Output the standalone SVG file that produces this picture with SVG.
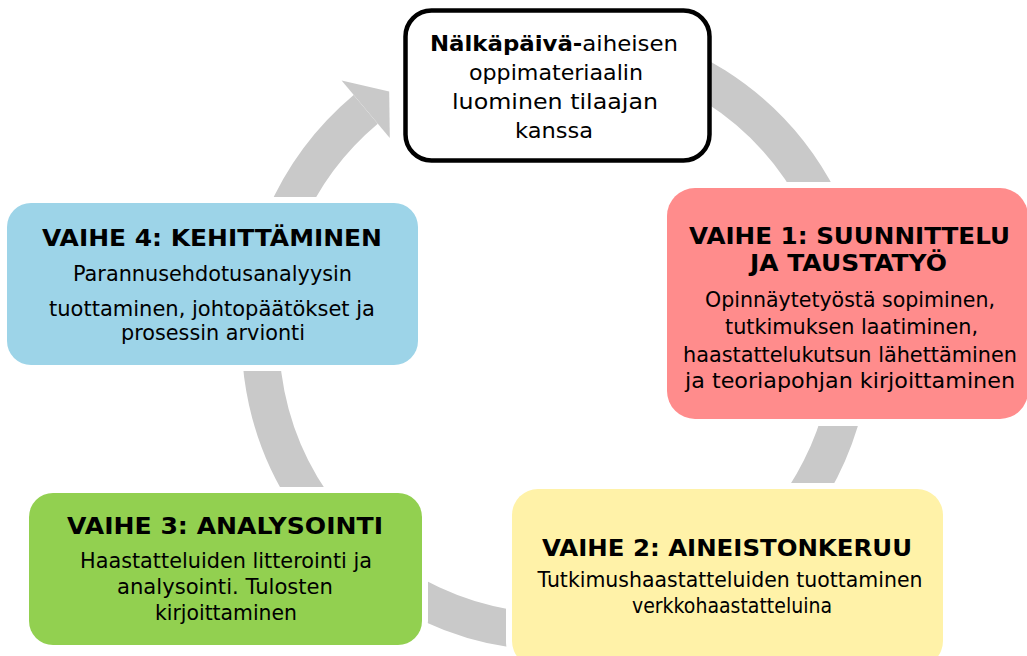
<svg xmlns="http://www.w3.org/2000/svg" width="1027" height="656" viewBox="0 0 1027 656">
<style>
text{font-family:"DejaVu Sans","Liberation Sans",sans-serif;fill:#000;text-anchor:middle}
.t{font-size:23px;font-weight:bold}
.b{font-size:20.5px}
.n{font-size:21.5px}
.halo{fill:#fff}
</style>
<rect width="1027" height="656" fill="#fff"/>
<g id="connectors">
<path d="M430.9 67.7 A296 296 0 1 1 365.7 109.3" fill="none" stroke="#c9c9c9" stroke-width="37.5"/>
<polygon points="341.6,80.6 389.2,91.5 389.8,138" fill="#c9c9c9"/>
</g>
<g id="halos">
<rect class="halo" x="1" y="197" width="423" height="174" rx="30"/>
<rect class="halo" x="661" y="182" width="372" height="244" rx="34"/>
<rect class="halo" x="23" y="487" width="405" height="164" rx="30"/>
<rect class="halo" x="506" y="483" width="443" height="190" rx="30"/>
</g>
<g id="node-start">
<rect x="405.5" y="10.5" width="304" height="150" rx="26" fill="#fff" stroke="#000" stroke-width="4.5"/>
<text class="n" x="554" y="51" textLength="248" lengthAdjust="spacingAndGlyphs"><tspan font-weight="bold">Nälkäpäivä-</tspan>aiheisen</text>
<text class="n" x="556" y="80" textLength="174" lengthAdjust="spacingAndGlyphs">oppimateriaalin</text>
<text class="n" x="555" y="109" textLength="206" lengthAdjust="spacingAndGlyphs">luominen tilaajan</text>
<text class="n" x="554" y="138" textLength="78" lengthAdjust="spacingAndGlyphs">kanssa</text>
</g>
<g id="node-vaihe1">
<rect x="667" y="188" width="361" height="231" rx="28" fill="#ff8c8c"/>
<text class="t" x="849.5" y="244" textLength="321" lengthAdjust="spacingAndGlyphs">VAIHE 1: SUUNNITTELU</text>
<text class="t" x="848.5" y="271" textLength="197" lengthAdjust="spacingAndGlyphs">JA TAUSTATYÖ</text>
<text class="b" x="850" y="307" textLength="290" lengthAdjust="spacingAndGlyphs">Opinnäytetyöstä sopiminen,</text>
<text class="b" x="851.5" y="334" textLength="253" lengthAdjust="spacingAndGlyphs">tutkimuksen laatiminen,</text>
<text class="b" x="850" y="362" textLength="334" lengthAdjust="spacingAndGlyphs">haastattelukutsun lähettäminen</text>
<text class="b" x="850" y="388" textLength="330" lengthAdjust="spacingAndGlyphs">ja teoriapohjan kirjoittaminen</text>
</g>
<g id="node-vaihe2">
<rect x="512" y="489" width="431" height="178" rx="26" fill="#fff2a8"/>
<text class="t" x="727" y="556" textLength="370" lengthAdjust="spacingAndGlyphs">VAIHE 2: AINEISTONKERUU</text>
<text class="b" x="730" y="587" textLength="385" lengthAdjust="spacingAndGlyphs">Tutkimushaastatteluiden tuottaminen</text>
<text class="b" x="732" y="613" textLength="200" lengthAdjust="spacingAndGlyphs">verkkohaastatteluina</text>
</g>
<g id="node-vaihe3">
<rect x="29" y="493" width="393" height="152" rx="24" fill="#92d050"/>
<text class="t" x="225" y="534" textLength="316" lengthAdjust="spacingAndGlyphs">VAIHE 3: ANALYSOINTI</text>
<text class="b" x="226" y="568" textLength="292" lengthAdjust="spacingAndGlyphs">Haastatteluiden litterointi ja</text>
<text class="b" x="225" y="594" textLength="216" lengthAdjust="spacingAndGlyphs">analysointi. Tulosten</text>
<text class="b" x="226" y="620" textLength="142" lengthAdjust="spacingAndGlyphs">kirjoittaminen</text>
</g>
<g id="node-vaihe4">
<rect x="7" y="203" width="411" height="162" rx="24" fill="#9dd4e8"/>
<text class="t" x="212" y="246" textLength="340" lengthAdjust="spacingAndGlyphs">VAIHE 4: KEHITTÄMINEN</text>
<text class="b" x="212.5" y="281" textLength="279" lengthAdjust="spacingAndGlyphs">Parannusehdotusanalyysin</text>
<text class="b" x="212" y="316" textLength="326" lengthAdjust="spacingAndGlyphs">tuottaminen, johtopäätökset ja</text>
<text class="b" x="213" y="340" textLength="184" lengthAdjust="spacingAndGlyphs">prosessin arvionti</text>
</g>
</svg>
